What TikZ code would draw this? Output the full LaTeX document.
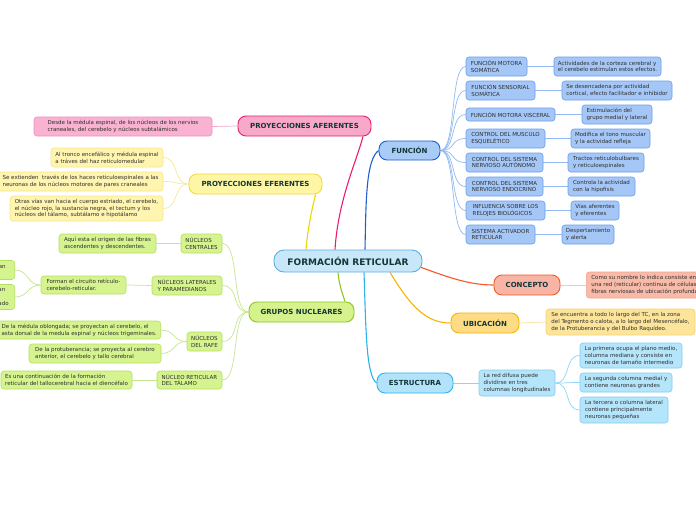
\documentclass[tikz,border=0pt]{standalone}
\usepackage{fontspec}
\setmainfont{DejaVu Sans}
\usetikzlibrary{backgrounds}
\definecolor{ttl}{HTML}{133636}
\definecolor{txt}{HTML}{2E2E2E}
\definecolor{cenF}{HTML}{C8E8FA}\definecolor{cenD}{HTML}{5BAEE3}
\definecolor{pinkD}{HTML}{E91E70}\definecolor{pinkF}{HTML}{F8A9C9}\definecolor{pinkL}{HTML}{F9B2D2}\definecolor{pinkB}{HTML}{F58DC0}\definecolor{pinkS}{HTML}{F7A6CB}
\definecolor{yelD}{HTML}{EED800}\definecolor{yelF}{HTML}{FFF6A5}\definecolor{yelB}{HTML}{EEDC3C}\definecolor{yelL}{HTML}{FFF4B0}\definecolor{yelLB}{HTML}{F6E68A}\definecolor{yelS}{HTML}{F5E99A}
\definecolor{grnD}{HTML}{8BC621}\definecolor{grnF}{HTML}{D6F28C}\definecolor{grnL}{HTML}{D5F38E}\definecolor{grnLB}{HTML}{B4E060}\definecolor{grnS}{HTML}{C6E692}
\definecolor{bluD}{HTML}{1E5FCF}\definecolor{bluF}{HTML}{A8CBF7}\definecolor{bluL}{HTML}{A5C7F7}\definecolor{bluLB}{HTML}{6A9DE8}\definecolor{bluS}{HTML}{93BAF0}
\definecolor{orgD}{HTML}{F05A28}\definecolor{orgF}{HTML}{F8B5A5}\definecolor{orgL}{HTML}{F9BBA9}\definecolor{orgLB}{HTML}{F4A28E}\definecolor{orgS}{HTML}{F9C6B8}
\definecolor{ubD}{HTML}{F6B600}\definecolor{ubF}{HTML}{FDDC85}\definecolor{ubL}{HTML}{FDE49B}\definecolor{ubLB}{HTML}{FAD46E}\definecolor{ubS}{HTML}{FBE3A6}
\definecolor{cyD}{HTML}{2AB4EC}\definecolor{cyF}{HTML}{B3E3FA}\definecolor{cyL}{HTML}{B5E5FB}\definecolor{cyLB}{HTML}{80CDF2}\definecolor{cyS}{HTML}{8ED4F4}
\begin{document}
\begin{tikzpicture}[x=1pt,y=-1pt,
  mainn/.style={draw, line width=0.9pt, rounded corners=8pt, inner sep=0pt,
    font=\fontsize{7}{8}\selectfont\bfseries, text=ttl, minimum height=20pt},
  box/.style={draw, line width=0.6pt, rounded corners=3pt, inner sep=0pt, align=left,
    font=\fontsize{5.5}{6.8}\selectfont, text=txt},
  pk/.style={box, fill=pinkL, draw=pinkB},
  yl/.style={box, fill=yelL, draw=yelLB},
  gr/.style={box, fill=grnL, draw=grnLB},
  bl/.style={box, fill=bluL, draw=bluLB},
  og/.style={box, fill=orgL, draw=orgLB},
  ub/.style={box, fill=ubL, draw=ubLB},
  cy/.style={box, fill=cyL, draw=cyLB},
  br/.style={line width=1.1pt},
  sb/.style={line width=0.7pt}]
\useasboundingbox (0,0) rectangle (696,520);

% ---------- nodes ----------
\node[mainn, fill=cenF, draw=cenD, minimum width=148pt, minimum height=22pt, rounded corners=10pt,
  font=\fontsize{9}{10}\selectfont\bfseries] (c) at (348,261) {FORMACIÓN RETICULAR};

% aferentes
\node[mainn, fill=pinkF, draw=pinkD, minimum width=133pt] (af) at (304.5,126) {PROYECCIONES AFERENTES};
\node[pk, minimum width=178pt, minimum height=19pt] (afl) at (123,126.5) {Desde la médula espinal, de los núcleos de los nervios\\craneales, del cerebelo y núcleos subtalámicos};

% eferentes
\node[mainn, fill=yelF, draw=yelB, minimum width=133pt] (ef) at (255.5,184) {PROYECCIONES EFERENTES};
\node[yl, minimum width=112pt, minimum height=19pt] (ef1) at (107,157.5) {Al tronco encefálico y médula espinal\\a tráves del haz reticulomedular};
\node[yl, minimum width=165pt, minimum height=19pt] (ef2) at (80.5,181.5) {Se extienden\ \ través de los haces reticuloespinales a las\\neuronas de los núcleos motores de pares craneales};
\node[yl, minimum width=153pt, minimum height=25pt] (ef3) at (86.5,208.5) {Otras vías van hacia el cuerpo estriado, el cerebelo,\\el núcleo rojo, la sustancia negra, el tectum y los\\núcleos del tálamo, subtálamo e hipotálamo};

% grupos nucleares
\node[mainn, fill=grnF, draw=grnD, minimum width=105pt] (gn) at (301.5,312) {GRUPOS NUCLEARES};
\node[gr, minimum width=41pt, minimum height=19pt] (g1) at (201.5,243.5) {NÚCLEOS\\CENTRALES};
\node[gr, minimum width=97pt, minimum height=19pt] (g1l) at (107.5,243.5) {Aquí esta el origen de las fibras\\ascendentes y descendentes.};
\node[gr, minimum width=70pt, minimum height=19pt] (g2) at (187,285.5) {NÚCLEOS LATERALES\\Y PARAMEDIANOS};
\node[gr, minimum width=85pt, minimum height=18pt] (g2l) at (83.5,285) {Forman el circuito retículo-\\cerebelo-reticular.};
\node[gr, anchor=east, inner xsep=9pt, minimum height=19pt] (g2a) at (15,270) {an\\.};
\node[gr, anchor=east, inner xsep=6pt, minimum height=25pt] (g2b) at (15,297) {an\\\mbox{}\\ado};
\node[gr, minimum width=35pt, minimum height=19pt] (g3) at (204.5,341.5) {NÚCLEOS\\DEL RAFE};
\node[gr, anchor=east, inner xsep=4pt, minimum height=18pt] (g3a) at (161,330) {De la médula oblongada; se proyectan al cerebelo, el\\asta dorsal de la medula espinal y núcleos trigeminales.};
\node[gr, minimum width=132pt, minimum height=19pt] (g3b) at (95,353.5) {De la protuberancia; se proyecta al cerebro\\anterior, el cerebelo y tallo cerebral};
\node[gr, minimum width=65pt, minimum height=18pt] (g4) at (189.5,380) {NÚCLEO RETICULAR\\DEL TÁLAMO};
\node[gr, minimum width=131pt, minimum height=18pt] (g4l) at (66.5,380) {Es una continuación de la formación\\reticular del tallocerebral hacia el diencéfalo};

% funcion
\node[mainn, fill=bluF, draw=bluD, minimum width=61pt, minimum height=19pt] (fn) at (409.5,150.5) {FUNCIÓN};
\node[bl, minimum width=61pt, minimum height=19pt] (f1) at (496.5,66.5) {FUNCIÓN MOTORA\\SOMÁTICA};
\node[bl, minimum width=107pt, minimum height=19pt] (f1l) at (607.5,66.5) {Actividades de la corteza cerebral y\\el cerebelo estimulan estos efectos.};
\node[bl, minimum width=69pt, minimum height=19pt] (f2) at (500.5,90.5) {FUNCIÓN SENSORIAL\\SOMÁTICA};
\node[bl, minimum width=110pt, minimum height=19pt] (f2l) at (617,90.5) {Se desencadena por actividad\\cortical, efecto facilitador e inhibidor};
\node[bl, minimum width=89pt, minimum height=13pt] (f3) at (510.5,114.5) {FUNCIÓN MOTORA VISCERAL};
\node[bl, minimum width=70pt, minimum height=19pt] (f3l) at (617,114.5) {Estimulación del\\grupo medial y lateral};
\node[bl, minimum width=79pt, minimum height=19pt] (f4) at (505.5,138.5) {CONTROL DEL MUSCULO\\ESQUELÉTICO};
\node[bl, minimum width=79pt, minimum height=19pt] (f4l) at (610.5,138.5) {Modifica el tono muscular\\y la actividad refleja};
\node[bl, minimum width=77pt, minimum height=19pt] (f5) at (504.5,162.5) {CONTROL DEL SISTEMA\\NERVIOSO AUTÓNOMO};
\node[bl, minimum width=76pt, minimum height=19pt] (f5l) at (606,162.5) {Tractos reticulobulbares\\y reticuloespinales};
\node[bl, minimum width=77pt, minimum height=19pt] (f6) at (504.5,186.5) {CONTROL DEL SISTEMA\\NERVIOSO ENDOCRINO};
\node[bl, minimum width=67pt, minimum height=19pt] (f6l) at (601.5,186.5) {Controla la actividad\\con la hipofisis};
\node[bl, minimum width=79pt, minimum height=19pt] (f7) at (505.5,210.5) {INFLUENCIA SOBRE LOS\\RELOJES BIOLÓGICOS};
\node[bl, minimum width=48pt, minimum height=19pt] (f7l) at (595,210.5) {Vías aferentes\\y eferentes};
\node[bl, minimum width=69pt, minimum height=19pt] (f8) at (500.5,234.5) {SISTEMA ACTIVADOR\\RETICULAR};
\node[bl, minimum width=52pt, minimum height=19pt] (f8l) at (588,234.5) {Despertamiento\\y alerta};

% concepto
\node[mainn, fill=orgF, draw=orgD, minimum width=66pt] (cp) at (527,285) {CONCEPTO};
\node[og, anchor=west, inner xsep=5pt, minimum height=26pt] (cpl) at (586,285) {Como su nombre lo indica consiste en\\una red (reticular) continua de células\\fibras nerviosas de ubicación profunda};

% ubicacion
\node[mainn, fill=ubF, draw=ubD, minimum width=68pt] (ubn) at (485,323) {UBICACIÓN};
\node[ub, minimum width=149pt, minimum height=26pt] (ubl) at (620.5,322) {Se encuentra a todo lo largo del TC, en la zona\\del Tegmento o calota, a lo largo del Mesencéfalo,\\de la Protuberancia y del Bulbo Raquídeo.};

% estructura
\node[mainn, fill=cyF, draw=cyD, minimum width=76pt] (es) at (415,383) {ESTRUCTURA};
\node[cy, minimum width=76pt, minimum height=26pt] (esc) at (517,383) {La red difusa puede\\dividirse en tres\\columnas longitudinales};
\node[cy, minimum width=102pt, minimum height=25pt] (es1) at (631,355.5) {La primera ocupa el plano medio,\\columna mediana y consiste en\\neuronas de tamaño intermedio};
\node[cy, minimum width=92pt, minimum height=19pt] (es2) at (626,382.5) {La segunda columna medial y\\contiene neuronas grandes};
\node[cy, minimum width=88pt, minimum height=26pt] (es3) at (624,410) {La tercera o columna lateral\\contiene principalmente\\neuronas pequeñas};

% ---------- connectors (behind the boxes) ----------
\begin{scope}[on background layer]
\fill[white] (0,0) rectangle (696,520);
% main branches
\draw[br, pinkD] ([xshift=-13pt]c.north) .. controls (338,200) and (357,160) .. ([xshift=58.5pt]af.south);
\draw[br, yelD] ([xshift=-42pt]c.north) .. controls (308,225) and (313,205) .. ([xshift=60pt]ef.south);
\draw[br, bluD] ([xshift=17pt]c.north) .. controls (366,200) and (366,160) .. (fn.west);
\draw[br, grnD] ([xshift=-10pt]c.south) .. controls (339,285) and (343,295) .. ([xshift=43.5pt]gn.north);
\draw[br, cyD] ([xshift=16pt]c.south) .. controls (366,330) and (366,375) .. (es.west);
\draw[br, ubD] ([xshift=42pt]c.south) .. controls (410,305) and (425,323) .. (ubn.west);
\draw[br, orgD] ([xshift=72pt,yshift=-6pt]c.center) .. controls (450,278) and (470,285) .. (cp.west);

% sub connectors
\draw[sb, pinkS] (af.west) -- (afl.east);
\foreach \n in {ef1,ef2,ef3}
  \draw[sb, yelS] (ef.west) .. controls +(-16,0) and +(16,0) .. (\n.east);
\foreach \n in {g1,g2,g3,g4}
  \draw[sb, grnS] (gn.west) .. controls +(-18,0) and +(18,0) .. (\n.east);
\draw[sb, grnS] (g1.west) -- (g1l.east);
\draw[sb, grnS] (g2.west) -- (g2l.east);
\draw[sb, grnS] (g4.west) -- (g4l.east);
\foreach \n in {g2a,g2b}
  \draw[sb, grnS] (g2l.west) .. controls +(-14,0) and +(14,0) .. (\n.east);
\foreach \n in {g3a,g3b}
  \draw[sb, grnS] (g3.west) .. controls +(-14,0) and +(14,0) .. (\n.east);
\foreach \n in {f1,f2,f3,f4,f5,f6,f7,f8}
  \draw[sb, bluS] (fn.east) .. controls +(16,0) and +(-16,0) .. (\n.west);
\foreach \n in {1,...,8}
  \draw[sb, bluS] (f\n.east) -- (f\n l.west);
\draw[sb, orgS] (cp.east) -- (cpl.west);
\draw[sb, ubS] (ubn.east) -- (ubl.west);
\draw[sb, cyS] (es.east) -- (esc.west);
\foreach \n in {es1,es2,es3}
  \draw[sb, cyS] (esc.east) .. controls +(16,0) and +(-16,0) .. (\n.west);
\end{scope}
\end{tikzpicture}
\end{document}
